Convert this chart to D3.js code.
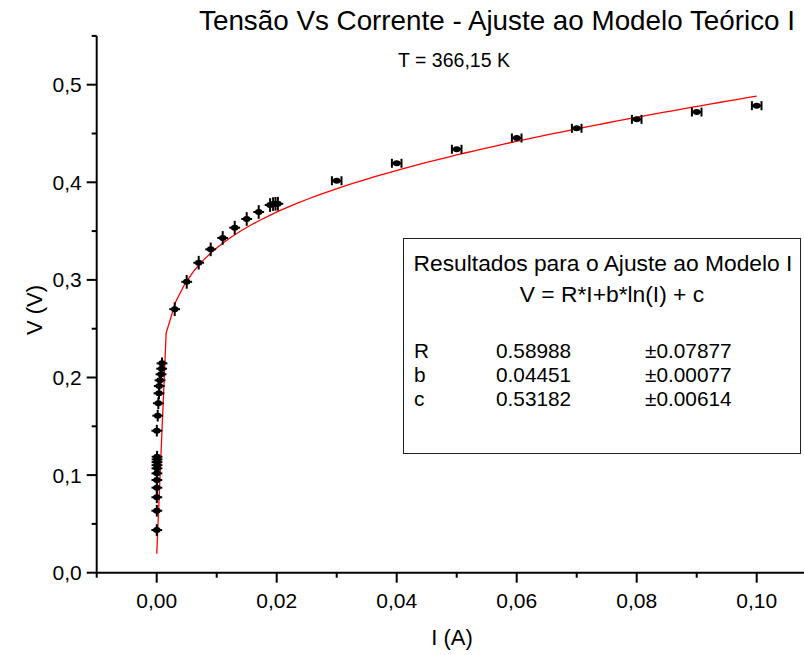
<!DOCTYPE html>
<html>
<head>
<meta charset="utf-8">
<script src="https://cdn.jsdelivr.net/npm/d3@7"></script>
<style>
  html, body { margin: 0; padding: 0; background: #fff; }
  svg { display: block; font-family: "Liberation Sans", Arial, sans-serif; }
</style>
</head>
<body>
<svg id="chart" width="804" height="655"></svg>
<script>
// Medidas: corrente I (A) e tensão V (V), com incertezas
const corrente = [
  0.00001, 0.00002, 0.00002, 0.00003, 0.00003, 0.00004, 0.00004, 0.00005, 0.00005, 0.00006, 0.00006,
  0.00002, 0.00017, 0.00027, 0.00038, 0.00043, 0.00055, 0.00072, 0.00083, 0.00088,
  0.003, 0.005, 0.007, 0.009, 0.011, 0.013, 0.015, 0.017, 0.0189, 0.0194, 0.0198, 0.0202,
  0.03, 0.04, 0.05, 0.06, 0.07, 0.08, 0.09, 0.10
];
const tensao = [
  0.0437, 0.0635, 0.0773, 0.0871, 0.0950, 0.1018, 0.1069, 0.1102, 0.1133, 0.1161, 0.1188,
  0.1455, 0.1609, 0.1736, 0.1838, 0.1913, 0.1971, 0.2033, 0.2090, 0.2145,
  0.2700, 0.2980, 0.3176, 0.3313, 0.3430, 0.3535, 0.3624, 0.3696, 0.3767, 0.3777, 0.3780, 0.3780,
  0.4016, 0.4195, 0.4338, 0.4454, 0.4553, 0.4645, 0.4720, 0.4785
];
const erroCorrente = [
  0.0009, 0.0009, 0.0009, 0.0009, 0.0009, 0.0009, 0.0009, 0.0009, 0.0009, 0.0009, 0.0009,
  0.0009, 0.0009, 0.0009, 0.0009, 0.0009, 0.0009, 0.0009, 0.0009, 0.0009,
  0.0009, 0.0009, 0.0009, 0.0009, 0.0009, 0.0009, 0.0009, 0.0009, 0.0009, 0.0009, 0.0009, 0.0009,
  0.0008, 0.0008, 0.0008, 0.0008, 0.0008, 0.0008, 0.0008, 0.0008
];
const erroTensao = [
  0.006, 0.006, 0.006, 0.006, 0.006, 0.006, 0.006, 0.006, 0.006, 0.006, 0.006,
  0.006, 0.006, 0.006, 0.006, 0.006, 0.006, 0.006, 0.006, 0.006,
  0.007, 0.007, 0.007, 0.007, 0.007, 0.007, 0.007, 0.007, 0.007, 0.007, 0.007, 0.007,
  0.002, 0.002, 0.002, 0.002, 0.002, 0.002, 0.002, 0.002
];

// Parâmetros do ajuste V = R*I + b*ln(I) + c
const parametros = ["R", "b", "c"];
const valores = [0.58988, 0.04451, 0.53182];
const incertezas = [0.07877, 0.00077, 0.00614];

const xTicks = [0.00, 0.02, 0.04, 0.06, 0.08, 0.10];
const yTicks = [0.0, 0.1, 0.2, 0.3, 0.4, 0.5];

const fmtX = v => d3.format(".2f")(v).replace(".", ",");
const fmtY = v => d3.format(".1f")(v).replace(".", ",");

const svg = d3.select("#chart");
svg.append("rect").attr("width", 804).attr("height", 655).attr("fill", "#fff");

const x = d3.scaleLinear().domain([-0.01, 0.11]).range([96.7, 816.7]);
const y = d3.scaleLinear().domain([0, 0.55]).range([572.7, 35.9]);

// Eixos
const xMinor = d3.range(-0.01, 0.111, 0.02);
const yMinor = d3.range(0.05, 0.56, 0.1);

const gx = svg.append("g").attr("transform", `translate(0,${y(0)})`);
gx.append("line").attr("x1", x(-0.01)).attr("x2", 816).attr("stroke", "#000").attr("stroke-width", 2);
gx.selectAll(".maj").data(xTicks).join("line")
  .attr("x1", d => x(d)).attr("x2", d => x(d)).attr("y1", 0).attr("y2", 10)
  .attr("stroke", "#000").attr("stroke-width", 2);
gx.selectAll(".min").data(xMinor).join("line")
  .attr("x1", d => x(d)).attr("x2", d => x(d)).attr("y1", 0).attr("y2", 5)
  .attr("stroke", "#000").attr("stroke-width", 2);
gx.selectAll("text").data(xTicks).join("text")
  .attr("x", d => x(d)).attr("y", 35).attr("text-anchor", "middle")
  .attr("font-size", 21).text(fmtX);

const gy = svg.append("g").attr("transform", `translate(${x(-0.01)},0)`);
gy.append("line").attr("y1", y(0) + 1).attr("y2", y(0.55)).attr("stroke", "#000").attr("stroke-width", 2);
gy.selectAll(".maj").data(yTicks).join("line")
  .attr("y1", d => y(d)).attr("y2", d => y(d)).attr("x1", 0).attr("x2", -10)
  .attr("stroke", "#000").attr("stroke-width", 2);
gy.selectAll(".min").data(yMinor).join("line")
  .attr("y1", d => y(d)).attr("y2", d => y(d)).attr("x1", 0).attr("x2", -5)
  .attr("stroke", "#000").attr("stroke-width", 2);
gy.selectAll("text").data(yTicks).join("text")
  .attr("x", -15).attr("y", d => y(d) + 7.5).attr("text-anchor", "end")
  .attr("font-size", 21).text(fmtY);

// Títulos
svg.append("text").attr("x", 497).attr("y", 30).attr("text-anchor", "middle")
  .attr("font-size", 27.8).text("Tensão Vs Corrente - Ajuste ao Modelo Teórico I");
svg.append("text").attr("x", 454).attr("y", 67).attr("text-anchor", "middle")
  .attr("font-size", 19.5).text("T = 366,15 K");
svg.append("text").attr("x", 452).attr("y", 645).attr("text-anchor", "middle")
  .attr("font-size", 22).text("I (A)");
svg.append("text").attr("transform", "translate(42,310) rotate(-90)").attr("text-anchor", "middle")
  .attr("font-size", 22).text("V (V)");

// Curva ajustada
const [R, b, c] = valores;
const iMin = d3.min(corrente), iMax = d3.max(corrente);
const nCurva = 65;
const curvaI = d3.range(nCurva).map(i => iMin + i * (iMax - iMin) / (nCurva - 1));
const linha = d3.line().x(d => x(d)).y(d => y(R * d + b * Math.log(d) + c));
svg.append("path").datum(curvaI).attr("d", linha)
  .attr("fill", "none").attr("stroke", "#ff0000").attr("stroke-width", 1.3);

// Pontos com barras de erro
const pontos = corrente.map((I, i) => ({ I, V: tensao[i], dI: erroCorrente[i], dV: erroTensao[i] }));
const gp = svg.append("g").attr("stroke", "#000").attr("stroke-width", 2);
pontos.forEach(p => {
  const px = x(p.I), py = y(p.V);
  gp.append("line").attr("x1", x(p.I - p.dI)).attr("x2", x(p.I + p.dI)).attr("y1", py).attr("y2", py);
  gp.append("line").attr("x1", px).attr("x2", px).attr("y1", y(p.V - p.dV)).attr("y2", y(p.V + p.dV));
  if (p.dV < 0.004) {
    [p.I - p.dI, p.I + p.dI].forEach(e => {
      gp.append("line").attr("x1", x(e)).attr("x2", x(e)).attr("y1", py - 4.5).attr("y2", py + 4.5);
    });
  }
  gp.append("ellipse").attr("cx", px).attr("cy", py).attr("rx", 3.8).attr("ry", 3)
    .attr("fill", "#000").attr("stroke", "none");
});

// Caixa com resultados do ajuste
const gl = svg.append("g");
gl.append("rect").attr("x", 403.5).attr("y", 238.5).attr("width", 397).attr("height", 215)
  .attr("fill", "#fff").attr("stroke", "#222").attr("stroke-width", 1);
gl.append("text").attr("x", 603).attr("y", 271).attr("text-anchor", "middle")
  .attr("font-size", 22.8).text("Resultados para o Ajuste ao Modelo I");
gl.append("text").attr("x", 612).attr("y", 302).attr("text-anchor", "middle")
  .attr("font-size", 22.8).text("V = R*I+b*ln(I) + c");
parametros.forEach((nome, i) => {
  const ly = 358 + i * 24;
  gl.append("text").attr("x", 414).attr("y", ly).attr("font-size", 20.8).text(nome);
  gl.append("text").attr("x", 496).attr("y", ly).attr("font-size", 20.8).text(d3.format(".5f")(valores[i]));
  gl.append("text").attr("x", 645).attr("y", ly).attr("font-size", 20.8).text("±" + d3.format(".5f")(incertezas[i]));
});
</script>
</body>
</html>
